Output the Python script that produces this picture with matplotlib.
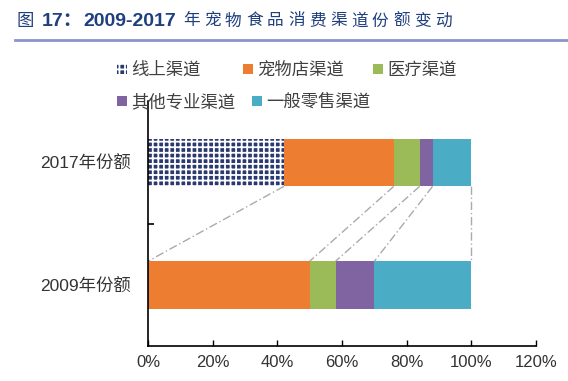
import matplotlib.pyplot as plt
import matplotlib.lines as mlines
from matplotlib.ticker import FuncFormatter

plt.rcParams['font.family'] = ['Noto Sans CJK SC', 'DejaVu Sans']
plt.rcParams['hatch.linewidth'] = 1.3

years = ['2009年份额', '2017年份额']
channels = ['线上渠道', '宠物店渠道', '医疗渠道', '其他专业渠道', '一般零售渠道']
share_2009 = [0, 50, 8, 12, 30]
share_2017 = [42, 34, 8, 4, 12]
colors = ['#2a3a70', '#ED7D31', '#9BBB59', '#8064A2', '#4BACC6']

fig = plt.figure(figsize=(5.68, 3.81), dpi=100)
ax = fig.add_axes([0.2606, 0.0906, 0.6831, 0.644])

bar_h = 0.39
left09 = 0
left17 = 0
edges09 = []
edges17 = []
handles = []
for i, name in enumerate(channels):
    if i == 0:
        h = ax.barh(1, share_2017[i], left=left17, height=bar_h, color=colors[i],
                    hatch='+++', edgecolor='white', linewidth=0, label=name)
    else:
        h = ax.barh(1, share_2017[i], left=left17, height=bar_h, color=colors[i], label=name)
        ax.barh(0, share_2009[i], left=left09, height=bar_h, color=colors[i])
    handles.append(h)
    left09 += share_2009[i]
    left17 += share_2017[i]
    edges09.append(left09)
    edges17.append(left17)

# connector lines between the two bars
for e17, e09 in zip(edges17, edges09):
    ax.plot([e17, e09], [1 - bar_h / 2, bar_h / 2], color='#aaaaaa',
            linestyle=(0, (6, 2, 1, 2)), linewidth=1)

ax.set_xlim(0, 120)
ax.set_ylim(-0.5, 1.5)
ax.set_xticks(range(0, 121, 20))
ax.xaxis.set_major_formatter(FuncFormatter(lambda v, p: f'{v:.0f}%'))
ax.set_yticks([0, 1])
ax.set_yticklabels(years)
ax.set_yticks([0.5], minor=True)
ax.tick_params(axis='y', which='major', length=0, pad=12, labelsize=12.5, labelcolor='#333333')
ax.tick_params(axis='y', which='minor', length=4, direction='in', width=1.2)
ax.tick_params(axis='x', length=4, direction='in', width=1, pad=6, labelsize=12, labelcolor='#333333')
for lbl in ax.get_xticklabels() + ax.get_yticklabels():
    lbl.set_family(['Liberation Sans', 'Noto Sans CJK SC'])
for s in ['top', 'right']:
    ax.spines[s].set_visible(False)
ax.spines['left'].set_linewidth(1.2)
ax.spines['bottom'].set_linewidth(1.2)

# legend: one entry per legend so the spacing follows the original
leg_x = [117, 243, 373, 117, 252]
leg_y = [70, 70, 70, 102, 102]
for h, name, lx, ly in zip(handles, channels, leg_x, leg_y):
    leg = fig.legend([h], [name], loc='center left', frameon=False, fontsize=12.5,
                     handlelength=0.55, handleheight=0.55, handletextpad=0.25,
                     borderaxespad=0, borderpad=0,
                     bbox_to_anchor=(lx / 568, 1 - ly / 381))
    for t in leg.get_texts():
        t.set_color('#404040')

# title
tcol = '#1f3f7f'
ty = 1 - 21 / 381
fig.text(17 / 568, ty, '图', fontsize=12.5, color=tcol, va='center')
fig.text(42 / 568, ty, '17：', fontsize=14, color=tcol, va='center',
         fontweight='bold', family=['Liberation Sans', 'Noto Sans CJK SC'])
fig.text(83 / 568, ty, '2009-2017', fontsize=14, color=tcol, va='center',
         fontweight='bold', family=['Liberation Sans'])
title_rest = '年宠物食品消费渠道份额变动'
for k, ch in enumerate(title_rest):
    fig.text((183 + k * 21) / 568, ty, ch, fontsize=12, color=tcol, va='center')
fig.add_artist(mlines.Line2D([0.027, 1.0], [0.895, 0.895], color='#8a94cc', linewidth=2))

fig.savefig('out.png', dpi=100)
